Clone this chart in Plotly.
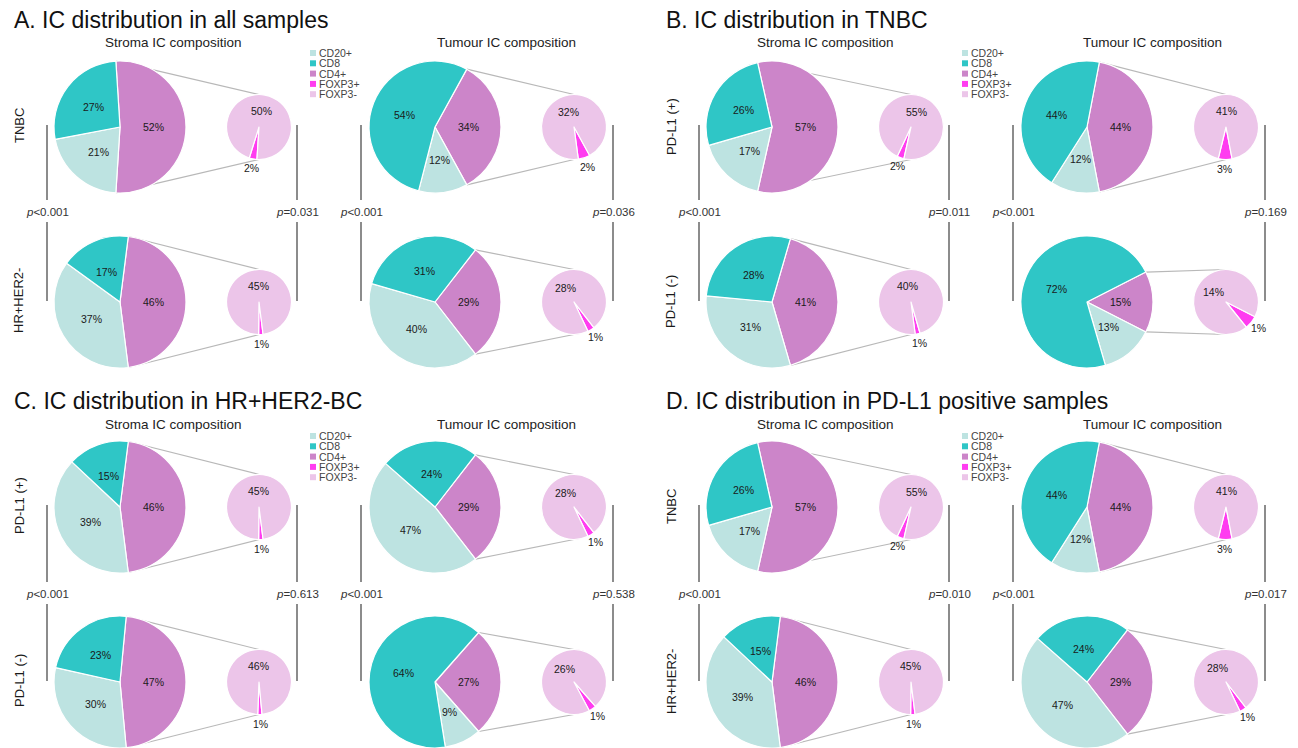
import math
import plotly.graph_objects as go

W, H = 1298, 748
FONT = "Liberation Sans, Arial, sans-serif"

# ---------------------------------------------------------------- data
panel_titles = [
    "A. IC distribution in all samples",
    "B. IC distribution in TNBC",
    "C. IC distribution in HR+HER2-BC",
    "D. IC distribution in PD-L1 positive samples",
]
compartments = ["Stroma IC composition", "Tumour IC composition"]
group_labels = [
    ["TNBC", "HR+HER2-"],
    ["PD-L1 (+)", "PD-L1 (-)"],
    ["PD-L1 (+)", "PD-L1 (-)"],
    ["TNBC", "HR+HER2-"],
]
legend_labels = ["CD20+", "CD8", "CD4+", "FOXP3+", "FOXP3-"]

# Percentages; order = panel (A-D) x compartment (stroma, tumour) x group (upper, lower)
cd20 = [21, 37, 12, 40, 17, 31, 12, 13, 39, 30, 47, 9, 17, 39, 12, 47]
cd8 = [27, 17, 54, 31, 26, 28, 44, 72, 15, 23, 24, 64, 26, 15, 44, 24]
cd4 = [52, 46, 34, 29, 57, 41, 44, 15, 46, 47, 29, 27, 57, 46, 44, 29]
foxp3_pos = [2, 1, 2, 1, 2, 1, 3, 1, 1, 1, 1, 1, 2, 1, 3, 1]
foxp3_neg = [50, 45, 32, 28, 55, 40, 41, 14, 45, 46, 28, 26, 55, 45, 41, 28]

# p-values; order = panel x compartment
p_composition = ["p<0.001"] * 8
p_foxp3 = ["p=0.031", "p=0.036", "p=0.011", "p=0.169",
           "p=0.613", "p=0.538", "p=0.010", "p=0.017"]

# ---------------------------------------------------------------- style
colors = {
    "CD20+": "#bde3e1",
    "CD8": "#2fc6c6",
    "CD4+": "#cc85c9",
    "FOXP3+": "#ff3cf0",
    "FOXP3-": "#ecc5e9",
}

PANEL_X = [0, 652, 0, 652]
PANEL_Y = [0, 0, 380, 380]
ROW_Y = [127, 302]
BIG_X = [120, 435]
SMALL_X = [259, 574]
BIG_R = 66
SMALL_R = 32.5
VLINE_X = [(47, 297), (361, 613)]
P_Y = 212
HEADER_X = [[173, 506], [173, 500]]
TITLE_X, TITLE_Y = 12, 20
HEADER_Y = 42
LEGEND_X, LEGEND_Y, LEGEND_STEP = 310, 53, 10.3
ROWLABEL_X = 19


def px(x):
    return min(max(x / W, 0.0), 1.0)


def py(y):
    return min(max(1 - y / H, 0.0), 1.0)


def polar(cx, cy, r, ang):
    a = math.radians(ang)
    return cx + r * math.sin(a), cy - r * math.cos(a)


def wrap(a):
    return ((a + 180) % 360) - 180


fig = go.Figure()
shapes = []
annotations = []


def text(x, y, s, size, color="#1a1a1a", xanchor="center", angle=0, yanchor="middle"):
    annotations.append(dict(
        x=px(x), y=py(y), xref="paper", yref="paper", text=s, showarrow=False,
        xanchor=xanchor, yanchor=yanchor, textangle=angle,
        font=dict(family=FONT, size=size, color=color),
    ))


def line(x0, y0, x1, y1, color, width):
    shapes.append(dict(
        type="line", xref="paper", yref="paper", layer="below",
        x0=px(x0), y0=py(y0), x1=px(x1), y1=py(y1),
        line=dict(color=color, width=width),
    ))


def italic_p(s):
    return "<i>p</i>" + s[1:].replace("<", "&lt;")


for p in range(4):
    ox, oy = PANEL_X[p], PANEL_Y[p]
    side = p % 2

    text(ox + TITLE_X, oy + TITLE_Y + (1 if p >= 2 else 0), panel_titles[p], 23, "#111111", xanchor="left")

    # legend
    ly0 = oy + LEGEND_Y + (3 if p >= 2 else 0)
    for k, lab in enumerate(legend_labels):
        ly = ly0 + k * LEGEND_STEP
        lx = ox + LEGEND_X
        shapes.append(dict(
            type="rect", xref="paper", yref="paper",
            x0=px(lx), x1=px(lx + 6), y0=py(ly - 3), y1=py(ly + 3),
            fillcolor=colors[lab], line=dict(width=0),
        ))
        text(lx + 7, ly, lab, 10.5, "#444444", xanchor="left")

    for g in range(2):
        text(ox + ROWLABEL_X, oy + ROW_Y[g] - 1, group_labels[p][g], 13, "#1a1a1a", angle=-90)

    for c in range(2):
        text(ox + HEADER_X[side][c], oy + HEADER_Y + (2 if p >= 2 else 0), compartments[c], 13.5, "#222222")

        # comparison brackets with p-values
        pi = p * 2 + c
        pty = oy + P_Y + (2 if p >= 2 else 0)
        for lx, ptxt in zip(VLINE_X[c], [p_composition[pi], p_foxp3[pi]]):
            x = ox + lx
            line(x, oy + ROW_Y[0] - 2, x, pty - 12, "#666666", 1.5)
            line(x, pty + 10, x, oy + ROW_Y[1] - 1, "#666666", 1.5)
            text(x, pty, italic_p(ptxt), 11.5, "#333333")

        for g in range(2):
            i = p * 4 + c * 2 + g
            cx, cy = ox + BIG_X[c], oy + ROW_Y[g]
            sx = ox + SMALL_X[c]

            # primary pie: CD4+ slice centred towards the secondary pie
            vals = [cd4[i], cd20[i], cd8[i]]
            labs = ["CD4+", "CD20+", "CD8"]
            tot = sum(vals)
            half = cd4[i] / tot * 180
            start = 90 - half
            fig.add_trace(go.Pie(
                labels=labs, values=vals, sort=False, direction="clockwise",
                rotation=wrap(start),
                domain=dict(x=[px(cx - BIG_R), px(cx + BIG_R)],
                            y=[py(cy + BIG_R), py(cy - BIG_R)]),
                marker=dict(colors=[colors[l] for l in labs],
                            line=dict(color="white", width=1.2)),
                textinfo="none", showlegend=False, hoverinfo="label+value",
            ))
            acc = start
            for v in vals:
                mid = acc + v / tot * 180
                tx, ty = polar(cx, cy, BIG_R * 0.5, mid)
                text(tx, ty, f"{v}%", 10.5)
                acc += v / tot * 360

            # connector lines from the CD4+ slice edges to the secondary pie
            x0, y0 = polar(cx, cy, BIG_R, 90 - half)
            x1, y1 = polar(cx, cy, BIG_R, 90 + half)
            line(x0, y0, sx, cy - SMALL_R, "#b8b8b8", 1.2)
            line(x1, y1, sx, cy + SMALL_R, "#b8b8b8", 1.2)

            # secondary pie: CD4+ split into FOXP3+ / FOXP3-
            svals = [foxp3_pos[i], foxp3_neg[i]]
            slabs = ["FOXP3+", "FOXP3-"]
            stot = sum(svals)
            sstart = 90 + half
            fig.add_trace(go.Pie(
                labels=slabs, values=svals, sort=False, direction="clockwise",
                rotation=wrap(sstart),
                domain=dict(x=[px(sx - SMALL_R), px(sx + SMALL_R)],
                            y=[py(cy + SMALL_R), py(cy - SMALL_R)]),
                marker=dict(colors=[colors[l] for l in slabs],
                            line=dict(color="white", width=1.2)),
                textinfo="none", showlegend=False, hoverinfo="label+value",
            ))
            pos_mid = sstart + svals[0] / stot * 180
            neg_mid = sstart + svals[0] / stot * 360 + svals[1] / stot * 180
            tx, ty = polar(sx, cy, SMALL_R * 1.28, pos_mid)
            text(tx, ty, f"{svals[0]}%", 10.5)
            tx, ty = polar(sx, cy, SMALL_R * 0.5, neg_mid)
            text(tx, ty, f"{svals[1]}%", 10.5)

fig.update_layout(
    width=W, height=H,
    margin=dict(l=0, r=0, t=0, b=0),
    paper_bgcolor="white", plot_bgcolor="white",
    showlegend=False,
    shapes=shapes, annotations=annotations,
    font=dict(family=FONT),
)

fig.write_html("out.html")
